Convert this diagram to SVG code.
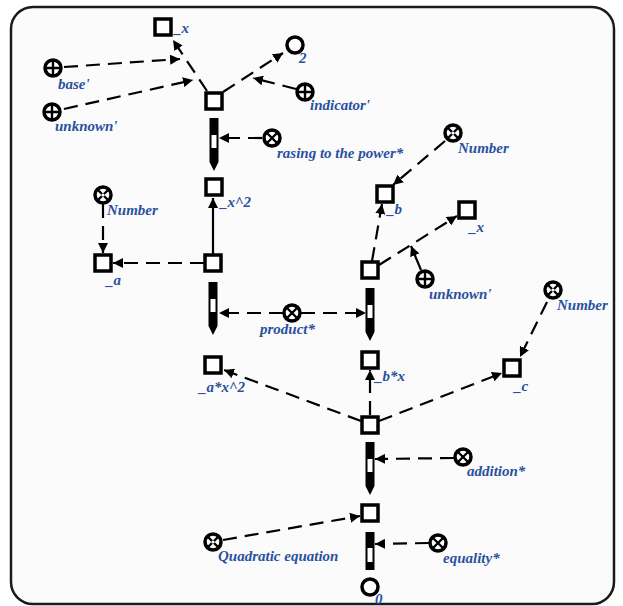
<svg xmlns="http://www.w3.org/2000/svg" width="623" height="606" viewBox="0 0 623 606">
<defs>
<marker id="ah" markerUnits="userSpaceOnUse" markerWidth="12" markerHeight="10" refX="10" refY="5" orient="auto">
<path d="M0,0 L10,5 L0,10 Z" fill="#000"/>
</marker>
<g id="pen">
<path d="M-4.5,0 H4.5 V44 L0,53 L-4.5,44 Z" fill="#000"/>
<rect x="-2.5" y="17" width="5" height="13" fill="#fff"/>
</g>
</defs>
<style>
.frame{fill:#fbfbfb;stroke:#1a1a1a;stroke-width:2.5}
.sq{fill:#fff;stroke:#000;stroke-width:3.5}
.ring{fill:#fff;stroke:#000;stroke-width:3.5}
.glyph{stroke:#000;stroke-width:2.4;fill:none}
.d{stroke:#000;stroke-width:2.2;fill:none;stroke-dasharray:14 8;marker-end:url(#ah)}
.s{stroke:#000;stroke-width:2.2;fill:none;marker-end:url(#ah)}
text{font-family:"Liberation Serif",serif;font-style:italic;font-weight:bold;font-size:15px;fill:#2a50a0}
</style>
<rect class="frame" x="11" y="7" width="603" height="597" rx="22"/>

<g id="connectors">
<line class="d" x1="207" y1="91" x2="173" y2="40"/>
<line class="d" x1="64" y1="67" x2="180" y2="59"/>
<line class="d" x1="64" y1="109" x2="193" y2="80"/>
<line class="d" x1="223" y1="92" x2="283" y2="53"/>
<line class="d" x1="296" y1="89" x2="253" y2="78"/>
<line class="d" x1="262" y1="138" x2="219" y2="138"/>
<line class="s" x1="213" y1="254" x2="213" y2="198"/>
<line class="d" x1="204" y1="263" x2="113" y2="263"/>
<line class="d" x1="103" y1="204" x2="103" y2="253"/>
<line class="d" x1="283" y1="313" x2="219" y2="313"/>
<line class="d" x1="301" y1="313" x2="366" y2="313"/>
<line class="d" x1="361" y1="421" x2="224" y2="370"/>
<line class="d" x1="370" y1="415" x2="370" y2="370"/>
<line class="d" x1="379" y1="421" x2="502" y2="373"/>
<line class="d" x1="547" y1="302" x2="520" y2="357"/>
<line class="d" x1="372" y1="261" x2="382" y2="204"/>
<line class="d" x1="379" y1="265" x2="457" y2="216"/>
<line class="s" x1="421" y1="270" x2="411" y2="246"/>
<line class="d" x1="445" y1="141" x2="393" y2="185"/>
<line class="d" x1="454" y1="458" x2="375" y2="459"/>
<line class="d" x1="223" y1="540" x2="360" y2="516"/>
<line class="d" x1="429" y1="543" x2="375" y2="544"/>
</g>

<g id="n_x_top"><rect class="sq" x="155" y="19" width="16" height="16"/><text x="174" y="33">_x</text></g>
<g id="n_two"><circle class="ring" cx="295" cy="45" r="8"/><text x="299" y="63">2</text></g>
<g id="n_base"><circle class="ring" cx="53" cy="68" r="8"/><path class="glyph" d="M46,68H60M53,61V75"/><text x="58" y="89">base'</text></g>
<g id="n_unknown1"><circle class="ring" cx="52" cy="112" r="8"/><path class="glyph" d="M45,112H59M52,105V119"/><text x="55" y="131">unknown'</text></g>
<g id="n_indicator"><circle class="ring" cx="305" cy="92" r="8"/><path class="glyph" d="M298,92H312M305,85V99"/><text x="310" y="110">indicator'</text></g>
<g id="n_pow_node"><rect class="sq" x="206" y="93" width="16" height="16"/></g>
<g id="n_pen1"><use href="#pen" x="214" y="118"/></g>
<g id="n_rasing"><circle class="ring" cx="272" cy="138" r="8"/><path class="glyph" d="M267,133L277,143M277,133L267,143"/><text x="277" y="158">rasing to the power*</text></g>
<g id="n_x2"><rect class="sq" x="206" y="179" width="16" height="16"/><text x="220" y="207">_x^2</text></g>

<g id="n_number1"><circle class="ring" cx="103" cy="195" r="8"/><path class="glyph" d="M98,190L108,200M108,190L98,200"/><circle cx="103" cy="195" r="1.6" fill="#fff"/><text x="107" y="215">Number</text></g>
<g id="n_a"><rect class="sq" x="95" y="255" width="16" height="16"/><text x="106" y="285">_a</text></g>
<g id="n_prod_node"><rect class="sq" x="205" y="255" width="16" height="16"/></g>
<g id="n_pen2"><use href="#pen" x="213" y="282"/></g>
<g id="n_product"><circle class="ring" cx="292" cy="313" r="8"/><path class="glyph" d="M287,308L297,318M297,308L287,318"/><text x="260" y="334">product*</text></g>
<g id="n_ax2"><rect class="sq" x="205" y="357" width="16" height="16"/><text x="199" y="392">_a*x^2</text></g>

<g id="n_number2"><circle class="ring" cx="453" cy="133" r="8"/><path class="glyph" d="M448,128L458,138M458,128L448,138"/><circle cx="453" cy="133" r="1.6" fill="#fff"/><text x="458" y="153">Number</text></g>
<g id="n_b"><rect class="sq" x="377" y="186" width="16" height="16"/><text x="387" y="214">_b</text></g>
<g id="n_x_right"><rect class="sq" x="459" y="202" width="16" height="16"/><text x="469" y="232">_x</text></g>
<g id="n_bx_node"><rect class="sq" x="362" y="262" width="16" height="16"/></g>
<g id="n_unknown2"><circle class="ring" cx="425" cy="279" r="8"/><path class="glyph" d="M418,279H432M425,272V286"/><text x="429" y="299">unknown'</text></g>
<g id="n_pen3"><use href="#pen" x="370" y="288"/></g>
<g id="n_number3"><circle class="ring" cx="553" cy="290" r="8"/><path class="glyph" d="M548,285L558,295M558,285L548,295"/><circle cx="553" cy="290" r="1.6" fill="#fff"/><text x="557" y="310">Number</text></g>
<g id="n_bx"><rect class="sq" x="362" y="352" width="16" height="16"/><text x="375" y="381">_b*x</text></g>
<g id="n_c"><rect class="sq" x="504" y="360" width="16" height="16"/><text x="514" y="391">_c</text></g>

<g id="n_sum_node"><rect class="sq" x="362" y="417" width="16" height="16"/></g>
<g id="n_pen4"><use href="#pen" x="370" y="442"/></g>
<g id="n_addition"><circle class="ring" cx="463" cy="457" r="8"/><path class="glyph" d="M458,452L468,462M468,452L458,462"/><text x="467" y="476">addition*</text></g>
<g id="n_eq_node"><rect class="sq" x="362" y="505" width="16" height="16"/></g>
<g id="n_quadratic"><circle class="ring" cx="213" cy="542" r="8"/><path class="glyph" d="M208,537L218,547M218,537L208,547"/><circle cx="213" cy="542" r="1.6" fill="#fff"/><text x="218" y="561">Quadratic equation</text></g>
<g id="n_pen5"><path d="M365.5,532H374.5V570H365.5Z" fill="#000"/><rect x="367.5" y="548" width="5" height="14" fill="#fff"/></g>
<g id="n_equality"><circle class="ring" cx="438" cy="543" r="8"/><path class="glyph" d="M433,538L443,548M443,538L433,548"/><text x="443" y="563">equality*</text></g>
<g id="n_zero"><circle class="ring" cx="370" cy="587" r="8"/><text x="375" y="604">0</text></g>
</svg>
